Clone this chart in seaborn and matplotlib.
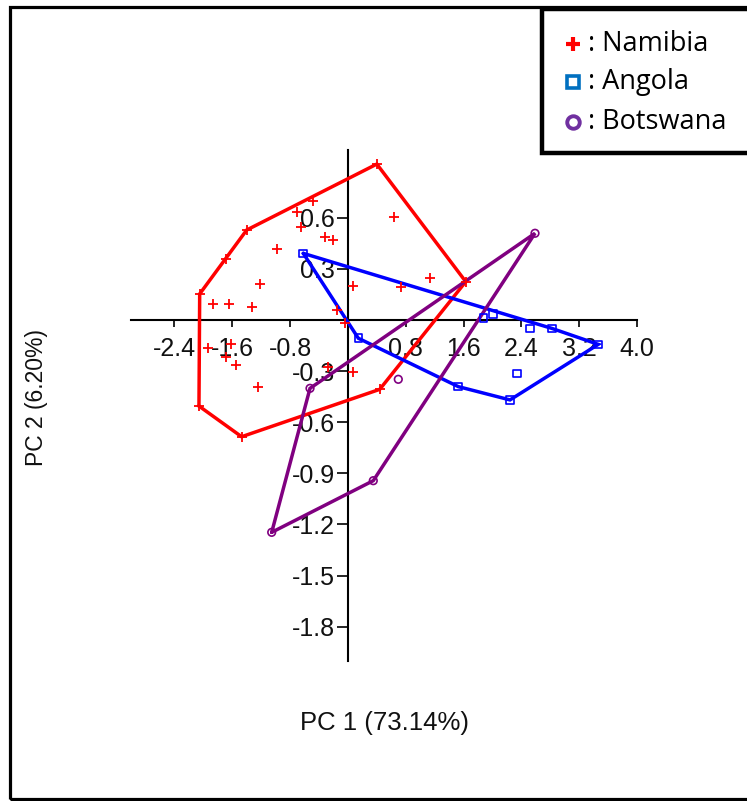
import numpy as np
import pandas as pd
import matplotlib
matplotlib.use("Agg")
import matplotlib.pyplot as plt
from matplotlib.patches import Rectangle
from matplotlib.lines import Line2D
import seaborn as sns

# PCA scores per country
namibia_pc1 = [0.40, -0.48, -0.71, -0.65, -0.31, -0.21, -0.98, -1.40, -1.68, -1.22,
               0.07, 0.64, 0.74, 1.14, 1.63, -2.05, -1.86, -1.65, -1.32, -1.94,
               -1.61, -1.69, -1.55, -1.25, -0.27, 0.07, -2.06, -1.47, 0.44, -0.15, -0.04]
namibia_pc2 = [0.915, 0.700, 0.636, 0.544, 0.489, 0.469, 0.415, 0.528, 0.356, 0.210,
               0.200, 0.603, 0.192, 0.245, 0.225, 0.153, 0.094, 0.094, 0.078, -0.163,
               -0.143, -0.219, -0.264, -0.395, -0.274, -0.303, -0.505, -0.685, -0.407, 0.059, -0.016]

angola_pc1 = [-0.617, 0.144, 1.527, 2.242, 3.463, 2.335, 2.519, 2.819, 1.873, 2.003]
angola_pc2 = [0.391, -0.107, -0.391, -0.469, -0.143, -0.313, -0.049, -0.049, 0.010, 0.035]

botswana_pc1 = [2.588, -0.524, -1.054, 0.351, 0.697]
botswana_pc2 = [0.509, -0.401, -1.246, -0.943, -0.348]

countries = ["Namibia", "Angola", "Botswana"]
x_ticks = [-2.4, -1.6, -0.8, 0.8, 1.6, 2.4, 3.2, 4.0]
y_ticks = [0.6, 0.3, -0.3, -0.6, -0.9, -1.2, -1.5, -1.8]
x_label = "PC 1 (73.14%)"
y_label = "PC 2 (6.20%)"

sns.set_theme(style="white")
plt.rcParams["font.family"] = ["Liberation Sans", "DejaVu Sans"]
plt.rcParams["axes.unicode_minus"] = False

W, H = 747, 801
fig = plt.figure(figsize=(W / 100, H / 100), dpi=100)
fig.patch.set_facecolor("white")
ax = fig.add_axes([131 / W, 1 - 660.8 / H, 506.1 / W, 511.2 / H])
ax.set_facecolor("none")


def convex_hull(xs, ys):
    pts = sorted(set(zip(xs, ys)))

    def cross(o, a, b):
        return (a[0] - o[0]) * (b[1] - o[1]) - (a[1] - o[1]) * (b[0] - o[0])

    lower, upper = [], []
    for p in pts:
        while len(lower) >= 2 and cross(lower[-2], lower[-1], p) <= 0:
            lower.pop()
        lower.append(p)
    for p in reversed(pts):
        while len(upper) >= 2 and cross(upper[-2], upper[-1], p) <= 0:
            upper.pop()
        upper.append(p)
    hull = lower[:-1] + upper[:-1]
    hull.append(hull[0])
    return [p[0] for p in hull], [p[1] for p in hull]


groups = [
    (namibia_pc1, namibia_pc2, "#ff0000", "+"),
    (angola_pc1, angola_pc2, "#0000ff", "s"),
    (botswana_pc1, botswana_pc2, "#800080", "o"),
]

for xs, ys, col, mk in groups:
    hx, hy = convex_hull(xs, ys)
    ax.plot(hx, hy, color=col, lw=2.5, solid_joinstyle="miter", zorder=2)

for (xs, ys, col, mk), name in zip(groups, countries):
    df = pd.DataFrame({"PC1": xs, "PC2": ys})
    if mk == "+":
        sns.scatterplot(data=df, x="PC1", y="PC2", marker="+", color=col,
                        s=45, linewidth=1.3, ax=ax, zorder=3)
    else:
        sns.scatterplot(data=df, x="PC1", y="PC2", marker=mk, facecolor="none",
                        edgecolor=col, s=30, linewidth=1.2, ax=ax, zorder=3)

ax.set_xlim(-3, 4)
ax.set_ylim(-2, 1)
ax.set_xlabel("")
ax.set_ylabel("")

for side in ["top", "right"]:
    ax.spines[side].set_visible(False)
ax.spines["left"].set_position(("data", 0))
ax.spines["bottom"].set_position(("data", 0))
for side in ["left", "bottom"]:
    ax.spines[side].set_color("black")
    ax.spines[side].set_linewidth(1.5)
    ax.spines[side].set_zorder(1)

ax.set_xticks(x_ticks)
ax.set_xticklabels([f"{v:.1f}" for v in x_ticks])
ax.set_yticks(y_ticks)
ax.set_yticklabels([f"{v:.1f}" for v in y_ticks])
ax.tick_params(axis="x", direction="out", length=5, width=1.2, pad=7,
               labelsize=18, colors="black", bottom=True)
ax.tick_params(axis="y", direction="out", length=8, width=1.2, pad=1.5,
               labelsize=18, colors="black", left=True)
for lab in ax.get_xticklabels() + ax.get_yticklabels():
    lab.set_color("#111111")
ax.grid(False)

fig.text(385 / W, 1 - 723 / H, x_label, ha="center", va="center",
         fontsize=18.5, color="#111111")
fig.text(36 / W, 1 - 397 / H, y_label, ha="center", va="center",
         rotation=90, fontsize=16.5, color="#111111")

# outer frame (right side runs off the canvas)
fig.add_artist(Rectangle((9.5 / W, 1 - 799 / H), 1.2, (799 - 7) / H,
                         transform=fig.transFigure, fill=False,
                         edgecolor="black", lw=2.3, zorder=5))

# legend box
fig.add_artist(Rectangle((542 / W, 1 - 153 / H), 1.0, (153 - 9) / H,
                         transform=fig.transFigure, facecolor="white",
                         edgecolor="black", lw=3.2, zorder=6))
legend_rows = [
    (44, dict(marker="+", ms=10, mew=3, color="#ff0000"), ": Namibia"),
    (82, dict(marker="s", ms=9, mew=2.6, mfc="none", mec="#0070c0"), ": Angola"),
    (122, dict(marker="o", ms=9, mew=2.8, mfc="none", mec="#7030a0"), ": Botswana"),
]
for py, mkw, txt in legend_rows:
    fig.add_artist(Line2D([573 / W], [1 - py / H], transform=fig.transFigure,
                          linestyle="none", zorder=7, **mkw))
    fig.text(588 / W, 1 - py / H, txt, ha="left", va="center", fontsize=19.5,
             family=["Open Sans", "DejaVu Sans"], color="black", zorder=7)

fig.savefig("out.png", dpi=100, facecolor="white")
